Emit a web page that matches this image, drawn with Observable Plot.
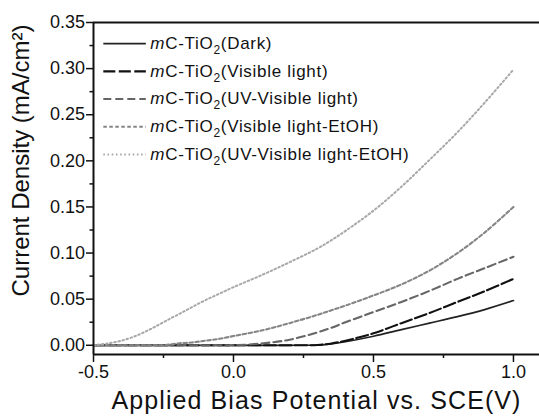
<!DOCTYPE html>
<html>
<head>
<meta charset="utf-8">
<script src="https://cdn.jsdelivr.net/npm/d3@7"></script>
<script src="https://cdn.jsdelivr.net/npm/@observablehq/plot@0.6"></script>
<style>
  html, body { margin: 0; padding: 0; background: #fff; }
  svg { font-family: "Liberation Sans", Arial, sans-serif; }
</style>
</head>
<body>
<div id="chart"></div>
<script>
// Series names (legend order)
const seriesNames = [
  "mC-TiO2(Dark)",
  "mC-TiO2(Visible light)",
  "mC-TiO2(UV-Visible light)",
  "mC-TiO2(Visible light-EtOH)",
  "mC-TiO2(UV-Visible light-EtOH)"
];

// Applied potential (V vs SCE)
const potential = [-0.5, -0.45, -0.4, -0.35, -0.3, -0.25, -0.2, -0.15, -0.1, -0.05, 0.0, 0.1, 0.2, 0.3, 0.35, 0.4, 0.5, 0.6, 0.7, 0.8, 0.9, 1.0];

// Current density (mA/cm2) per series
const dark      = [0, 0, 0, 0, 0, 0, 0, 0, 0, 0, 0, 0, 0, 0.0003, 0.0015, 0.0038, 0.0098, 0.017, 0.024, 0.031, 0.039, 0.0485];
const visible   = [0, 0, 0, 0, 0, 0, 0, 0, 0, 0, 0, 0, 0, 0.0003, 0.002, 0.005, 0.013, 0.024, 0.035, 0.047, 0.059, 0.072];
const uvVis     = [0, 0, 0, 0, 0, 0, 0, 0, 0, 0, 0, 0.002, 0.006, 0.014, 0.019, 0.025, 0.036, 0.047, 0.059, 0.072, 0.084, 0.096];
const visEtOH   = [0, 0, 0, 0, 0, 0, 0.002, 0.003, 0.005, 0.007, 0.010, 0.016, 0.024, 0.033, 0.038, 0.043, 0.054, 0.066, 0.081, 0.100, 0.123, 0.150];
const uvVisEtOH = [0, 0.002, 0.005, 0.010, 0.017, 0.025, 0.033, 0.041, 0.049, 0.056, 0.063, 0.076, 0.090, 0.105, 0.114, 0.124, 0.146, 0.172, 0.201, 0.231, 0.264, 0.299];

const seriesValues = [dark, visible, uvVis, visEtOH, uvVisEtOH];

// Styles per series
const colors = ["#222222", "#111111", "#666666", "#858585", "#a8a8a8"];
const dashes = ["none", "12,3.5", "8,4", "3.5,2.5", "1.6,2.6"];
const widths = [1.7, 2.1, 2.1, 2.1, 2];

// Tick values
const yMajor = [0, 0.05, 0.10, 0.15, 0.20, 0.25, 0.30, 0.35];
const yMinor = [0.025, 0.075, 0.125, 0.175, 0.225, 0.275, 0.325];
const xMajor = [-0.5, 0.0, 0.5, 1.0];
const xMinor = [-0.25, 0.25, 0.75];

const rows = [];
seriesValues.forEach((vals, s) => {
  vals.forEach((v, i) => rows.push({series: s, x: potential[i], y: v}));
});

// Legend placement (in data units)
const legend = seriesNames.map((name, i) => ({
  name, i,
  x1: -0.465, x2: -0.313, xt: -0.297,
  y: 0.327 - i * 0.0300
}));

const marks = [];
seriesNames.forEach((name, s) => {
  marks.push(Plot.line(rows.filter(d => d.series === s), {
    x: "x", y: "y", stroke: colors[s], strokeWidth: widths[s],
    strokeDasharray: dashes[s], curve: "catmull-rom"
  }));
  const L = legend[s];
  marks.push(Plot.link([L], {
    x1: "x1", x2: "x2", y1: "y", y2: "y",
    stroke: colors[s], strokeWidth: widths[s], strokeDasharray: dashes[s]
  }));
});
marks.push(Plot.text(legend, {
  x: "xt", y: "y", text: "name", textAnchor: "start", fontSize: 17, fill: "#111"
}));

// Frame lines
marks.push(Plot.ruleX([-0.5], {stroke: "#111", strokeWidth: 2}));
marks.push(Plot.ruleY([-0.01], {stroke: "#111", strokeWidth: 2}));
marks.push(Plot.ruleY([0.35], {stroke: "#111", strokeWidth: 2}));

const fmt1 = d => d.toFixed(1);
const fmt2 = d => d.toFixed(2);

// Axes
marks.push(Plot.axisY(yMajor, {tickSize: 7, tickPadding: 1.5, tickFormat: fmt2, fontSize: 18, stroke: "#111", strokeWidth: 1.5, label: null, fill: "#111"}));
marks.push(Plot.axisY(yMinor, {tickSize: 3.5, tickFormat: () => "", stroke: "#111", strokeWidth: 1.5, label: null}));
marks.push(Plot.axisX(xMajor, {tickSize: 8, tickPadding: 3, tickFormat: fmt1, fontSize: 18, stroke: "#111", strokeWidth: 1.5, label: null, fill: "#111"}));
marks.push(Plot.axisX(xMinor, {tickSize: 4, tickFormat: () => "", stroke: "#111", strokeWidth: 1.5, label: null}));

// Axis titles
marks.push(Plot.text(["Current Density (mA/cm²)"], {frameAnchor: "left", textAnchor: "middle", lineAnchor: "middle", rotate: -90, dx: -72, dy: -28, fontSize: 24, fill: "#111"}));
marks.push(Plot.text(["Applied Bias Potential vs. SCE(V)"], {frameAnchor: "bottom", textAnchor: "middle", lineAnchor: "middle", dy: 46, fontSize: 25, fill: "#111"}));

const chart = Plot.plot({
  width: 539,
  height: 416,
  marginLeft: 93,
  marginRight: 0,
  marginTop: 22,
  marginBottom: 62,
  x: {domain: [-0.5, 1.093]},
  y: {domain: [-0.01, 0.35]},
  style: {fontFamily: "'Liberation Sans', Arial, sans-serif", background: "#fff", overflow: "visible"},
  marks
});

// Rich text: italic "m" and subscript "2" in legend labels; letter spacing for titles
d3.select(chart).selectAll("text").each(function() {
  const t = d3.select(this);
  const s = this.textContent;
  if (s.startsWith("mC-TiO2")) {
    const rest = s.slice("mC-TiO2".length);
    t.text(null);
    t.style("letter-spacing", "0.7px");
    t.append("tspan").attr("font-style", "italic").text("m");
    t.append("tspan").text("C-TiO");
    t.append("tspan").attr("font-size", 12).attr("dy", 5).text("2");
    t.append("tspan").attr("dy", -5).text(rest);
  } else if (s === "Applied Bias Potential vs. SCE(V)") {
    t.style("letter-spacing", "1.1px");
  }
});

document.getElementById("chart").appendChild(chart);
</script>
</body>
</html>
